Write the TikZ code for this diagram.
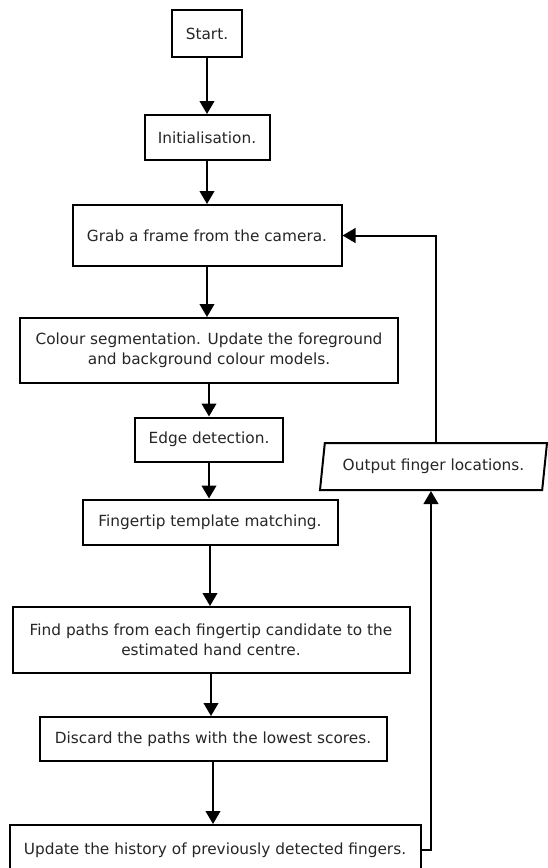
\documentclass[tikz,border=0pt]{standalone}
\usepackage{fontspec}
\setmainfont{DejaVu Sans}
\usepackage{tikz}
\usetikzlibrary{arrows.meta}
\usetikzlibrary{shapes.geometric}
\tikzset{basic/.style={draw,line width=1.5pt,fill=white,text=black!85,
                       align=center,inner sep=0pt,
                       font=\fontsize{11.5}{15}\selectfont}}
\tikzset{stage/.style 2 args={basic,rectangle,
                       minimum width=#1*0.75pt,minimum height=#2*0.75pt}}
\tikzset{output/.style={basic,trapezium,trapezium left angle=72,
                       trapezium right angle=108,trapezium stretches body,
                       minimum width=227*0.75pt,minimum height=47*0.75pt}}

\begin{document}
\begin{tikzpicture}[x=0.75pt,y=-0.75pt,>={Triangle[length=9.75pt,width=11pt]}]
  \tikzstyle{link}=[line width=1.5pt]
  % sizes follow the source picture (in pixels)
  \useasboundingbox (0,0) rectangle (548,868);

  % The main loop, one box per step:
  \node (start)   [stage={70}{47}]  at (207,33.5)  {Start.};
  \node (init)    [stage={125}{45}] at (207,137.5) {Initialisation.};
  \node (grab)    [stage={269}{61}] at (207,235.5) {Grab a frame from the camera.};
  \node (colour)  [stage={378}{65}] at (209,350.5)
        {Colour segmentation. Update the foreground\\and background colour models.};
  \node (edges)   [stage={148}{44}] at (209,439.5) {Edge detection.};
  \node (tmatch)  [stage={255}{45}] at (210,522)   {Fingertip template matching.};
  \node (paths)   [stage={397}{66}] at (211,640)
        {Find paths from each fingertip candidate to the\\estimated hand centre.};
  \node (discard) [stage={347}{44}] at (213,739)   {Discard the paths with the lowest scores.};
  \node (history) [stage={411}{50}] at (215,850)
        {Update the history of previously detected fingers.};

  % The result goes out and back to the camera:
  \node (out) [output] at (433.5,466.5) {Output finger locations.};

  % Connectors between the steps:
  \path[->,link]
    (start)   edge (start |- init.north)
    (init)    edge (init |- grab.north)
    (grab)    edge (grab |- colour.north)
    (colour)  edge (colour |- edges.north)
    (edges)   edge (edges |- tmatch.north)
    (tmatch)  edge (tmatch |- paths.north)
    (paths)   edge (paths |- discard.north)
    (discard) edge (discard |- history.north)
    ;
  \draw[->,link] (history.east) -| (out.bottom side);
  \draw[->,link] (out.top side) |- (grab.east);
\end{tikzpicture}
\end{document}
